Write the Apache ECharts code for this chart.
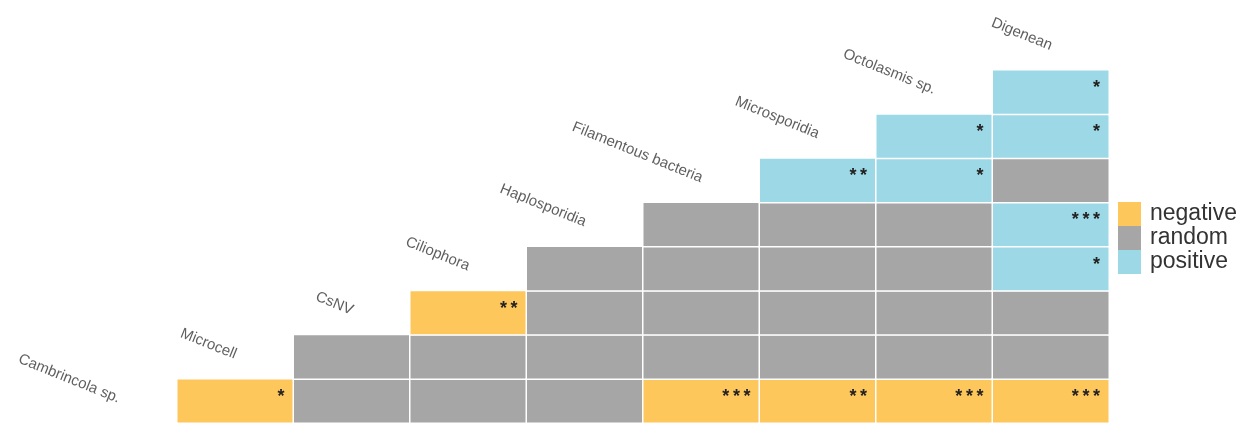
<!DOCTYPE html>
<html>
<head>
<meta charset="utf-8">
<script src="https://cdn.jsdelivr.net/npm/echarts@6/dist/echarts.min.js"></script>
<style>
  html, body { margin: 0; padding: 0; background: #fff; }
  #chart { width: 1248px; height: 423px; }
</style>
</head>
<body>
<div id="chart"></div>
<script>
// Taxa, in the order they sit along the diagonal (bottom-left to top-right)
const taxa = ['Cambrincola sp.', 'Microcell', 'CsNV', 'Ciliophora', 'Haplosporidia',
              'Filamentous bacteria', 'Microsporidia', 'Octolasmis sp.', 'Digenean'];

// Association of each taxon with every taxon before it (bottom row first):
// -1 = negative, 0 = random, 1 = positive
const assoc = [
  [],
  [-1],
  [0, 0],
  [0, 0, -1],
  [0, 0, 0, 0],
  [-1, 0, 0, 0, 0],
  [-1, 0, 0, 0, 0, 1],
  [-1, 0, 0, 0, 0, 1, 1],
  [-1, 0, 0, 1, 1, 0, 1, 1]
];

// Significance marks for the same pairs
const signif = [
  [],
  ['*'],
  ['', ''],
  ['', '', '**'],
  ['', '', '', ''],
  ['***', '', '', '', ''],
  ['**', '', '', '', '', '**'],
  ['***', '', '', '', '', '*', '*'],
  ['***', '', '', '*', '***', '', '*', '*']
];

const classNames = ['negative', 'random', 'positive'];
const classValues = [-1, 0, 1];
const classColors = ['#FEC75C', '#A6A6A6', '#9CD8E6'];

const cells = [];
assoc.forEach((col, x) => col.forEach((v, y) => cells.push([x, y, v])));
const diagonal = taxa.map((t, i) => [i, i]);

const chart = echarts.init(document.getElementById('chart'), null, { renderer: 'canvas' });
chart.setOption({
  animation: false,
  backgroundColor: '#fff',
  grid: { left: 60.5, right: 139, top: 26, bottom: 0 },
  xAxis: { type: 'category', data: taxa, show: false },
  yAxis: { type: 'category', data: taxa, show: false },
  visualMap: {
    type: 'piecewise',
    seriesIndex: 0,
    dimension: 2,
    orient: 'vertical',
    align: 'left',
    inverse: true,
    left: 1118,
    top: 202,
    padding: 0,
    itemWidth: 23,
    itemHeight: 24,
    itemGap: 0,
    itemSymbol: 'rect',
    textGap: 9,
    selectedMode: false,
    textStyle: { fontFamily: 'Liberation Sans, Arial, sans-serif', fontSize: 23, color: '#333', lineHeight: 22 },
    pieces: classValues.map((v, i) => ({ value: v, label: classNames[i], color: classColors[i] }))
  },
  series: [
    {
      type: 'heatmap',
      data: cells,
      itemStyle: { borderColor: '#fff', borderWidth: 1.5 },
      emphasis: { disabled: true },
      label: {
        show: true,
        position: 'insideTopRight',
        distance: 10,
        color: '#222',
        fontFamily: 'Liberation Sans, Arial, sans-serif',
        fontWeight: 'bold',
        fontSize: 18,
        // thin spaces between the stars
        formatter: p => signif[p.value[0]][p.value[1]].split('').join('\u2009')
      }
    },
    {
      type: 'scatter',
      data: diagonal,
      symbolSize: 0,
      silent: true,
      label: {
        show: true,
        position: 'inside',
        align: 'right',
        verticalAlign: 'middle',
        rotate: -22,
        color: '#363636',
        fontFamily: 'Liberation Sans, Arial, sans-serif',
        fontSize: 15,
        offset: [0, -2],
        formatter: p => taxa[p.dataIndex]
      }
    }
  ]
});
</script>
</body>
</html>
